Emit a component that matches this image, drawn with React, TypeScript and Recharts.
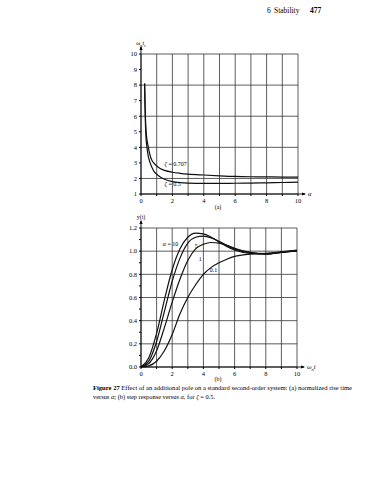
import React from 'react';
import { LineChart, Line, XAxis, YAxis, CartesianGrid, ReferenceDot } from 'recharts';

// (a) normalized rise time vs alpha
const alphaA = [0.23, 0.25, 0.28, 0.32, 0.38, 0.45, 0.55, 0.7, 0.85, 1, 1.25, 1.5, 2, 2.5, 3, 4, 5, 6, 7, 8, 9, 10];
const riseZeta0707 = [8.1, 7.2, 6.0, 5.1, 4.5, 4.1, 3.6, 3.15, 2.95, 2.8, 2.62, 2.52, 2.4, 2.33, 2.28, 2.22, 2.17, 2.13, 2.11, 2.1, 2.09, 2.09];
const riseZeta05 = [8.1, 7.0, 5.6, 4.6, 4.0, 3.5, 3.1, 2.7, 2.42, 2.27, 2.08, 1.95, 1.8, 1.73, 1.7, 1.68, 1.68, 1.69, 1.7, 1.72, 1.74, 1.76];
const riseXTicks = [0, 1, 2, 3, 4, 5, 6, 7, 8, 9, 10];
const riseYTicks = [1, 2, 3, 4, 5, 6, 7, 8, 9, 10];

// (b) step response vs normalized time
const timeB = [0, 0.5, 1, 1.5, 2, 2.5, 3, 3.5, 4, 4.5, 5, 5.5, 6, 7, 8, 9, 10];
const stepAlpha10 = [0, 0.08, 0.29, 0.58, 0.84, 1.02, 1.12, 1.155, 1.15, 1.12, 1.08, 1.04, 1.01, 0.98, 0.975, 0.99, 1.0];
const stepAlpha5 = [0, 0.05, 0.22, 0.48, 0.74, 0.94, 1.07, 1.12, 1.13, 1.115, 1.085, 1.05, 1.02, 0.985, 0.975, 0.99, 1.0];
const stepAlpha1 = [0, 0.03, 0.14, 0.34, 0.56, 0.76, 0.92, 1.02, 1.06, 1.075, 1.07, 1.05, 1.025, 0.99, 0.978, 0.99, 1.005];
const stepAlpha01 = [0, 0.01, 0.05, 0.14, 0.28, 0.46, 0.6, 0.71, 0.8, 0.86, 0.9, 0.93, 0.955, 0.975, 0.982, 0.995, 1.01];
const stepXTicks = [0, 1, 2, 3, 4, 5, 6, 7, 8, 9, 10];
const stepYTicks = [0, 0.1, 0.2, 0.3, 0.4, 0.5, 0.6, 0.7, 0.8, 0.9, 1.0, 1.1, 1.2];

const riseData = alphaA.map((a, i) => ({ alpha: a, z707: riseZeta0707[i], z05: riseZeta05[i] }));
const stepData = timeB.map((t, i) => ({
  t,
  a10: stepAlpha10[i],
  a5: stepAlpha5[i],
  a1: stepAlpha1[i],
  a01: stepAlpha01[i],
}));

const serif = '"Liberation Serif", "DejaVu Serif", serif';
const ink = '#000';
const tickStyle = { fontFamily: serif, fontSize: 6.5, fill: ink };

const evenLabel = (v: number) => (v % 2 === 0 ? String(v) : '');
const stepYLabel = (v: number) => (Math.round(v * 10) % 2 === 0 ? v.toFixed(1) : '');

// arrow on top of the y axis, with its name
const yArrow = (name: React.ReactNode) => (props: any) => {
  const vb = props.viewBox;
  const x = vb.x + vb.width;
  const y = vb.y;
  return (
    <g>
      <line x1={x} y1={y} x2={x} y2={y - 7} stroke={ink} strokeWidth={0.9} />
      <path d={`M${x - 1.6},${y - 4} L${x},${y - 8} L${x + 1.6},${y - 4} Z`} fill={ink} />
      <text x={x} y={y - 9} textAnchor="middle" fontFamily={serif} fontSize={6} fill={ink}>
        {name}
      </text>
    </g>
  );
};

// arrow at the right end of the x axis, with its name
const xArrow = (name: React.ReactNode) => (props: any) => {
  const vb = props.viewBox;
  const x = vb.x + vb.width;
  const y = vb.y;
  return (
    <g>
      <line x1={x} y1={y} x2={x + 7} y2={y} stroke={ink} strokeWidth={0.9} />
      <path d={`M${x + 4},${y - 1.6} L${x + 8},${y} L${x + 4},${y + 1.6} Z`} fill={ink} />
      <text x={x + 10} y={y + 2} fontFamily={serif} fontSize={6.5} fontStyle="italic" fill={ink}>
        {name}
      </text>
    </g>
  );
};

const tag = (text: React.ReactNode) => (p: any) => (
  <text x={p.cx} y={p.cy} dominantBaseline="middle" fontFamily={serif} fontSize={6} fill={ink}>
    {text}
  </text>
);

export default function App() {
  return (
    <div style={{ position: 'absolute', left: 0, top: 0, width: 388, height: 480, background: '#fff' }}>
      <svg width={388} height={480} style={{ position: 'absolute', left: 0, top: 0 }}>
        <text x={267} y={13} fontFamily={serif} fontSize={7.5} fill={ink}>6</text>
        <text x={274} y={13} fontFamily={serif} fontSize={7.5} fill={ink}>Stability</text>
        <text x={310} y={13} fontFamily={serif} fontSize={7.5} fontWeight="bold" fill={ink}>477</text>
        <text x={93} y={390} fontFamily={serif} fontSize={6.4} fill={ink} textLength={259} lengthAdjust="spacingAndGlyphs">
          <tspan fontWeight="bold">Figure 27</tspan>
          {'   Effect of an additional pole on a standard second-order system: (a) normalized rise time'}
        </text>
        <text x={93} y={398.5} fontFamily={serif} fontSize={6.4} fill={ink}>
          versus <tspan fontStyle="italic">α</tspan>; (b) step response versus <tspan fontStyle="italic">α</tspan>, for{' '}
          <tspan fontStyle="italic">ζ</tspan> = 0.5.
        </text>
        <text x={218} y={209} textAnchor="middle" fontFamily={serif} fontSize={6} fill={ink}>(a)</text>
        <text x={218} y={381} textAnchor="middle" fontFamily={serif} fontSize={6} fill={ink}>(b)</text>
      </svg>

      <div style={{ position: 'absolute', left: 0, top: 0 }}>
        <LineChart width={388} height={215} data={riseData} margin={{ top: 54, right: 90, bottom: 6, left: 121 }}>
          <CartesianGrid stroke="#333" strokeWidth={0.8} />
          <XAxis
            type="number"
            dataKey="alpha"
            domain={[0, 10]}
            ticks={riseXTicks}
            tickFormatter={evenLabel}
            tick={tickStyle}
            tickSize={2}
            height={15}
            axisLine={{ stroke: ink, strokeWidth: 0.9 }}
            tickLine={{ stroke: ink }}
            label={{ content: xArrow('α') }}
          />
          <YAxis
            type="number"
            domain={[1, 10]}
            ticks={riseYTicks}
            tick={tickStyle}
            tickSize={2}
            width={20}
            axisLine={{ stroke: ink, strokeWidth: 0.9 }}
            tickLine={{ stroke: ink }}
            label={{ content: yArrow(<tspan>ω<tspan fontSize={4.5} dy={1.5}>n</tspan><tspan dy={-1.5}>t</tspan><tspan fontSize={4.5} dy={1.5}>r</tspan></tspan>) }}
          />
          <Line type="monotone" dataKey="z707" stroke="#111" strokeWidth={1.2} dot={false} isAnimationActive={false} />
          <Line type="monotone" dataKey="z05" stroke="#111" strokeWidth={1.2} dot={false} isAnimationActive={false} />
          <ReferenceDot x={1.5} y={2.86} r={0} shape={tag(<tspan><tspan fontStyle="italic">ζ</tspan> = 0.707</tspan>)} />
          <ReferenceDot x={1.5} y={1.58} r={0} shape={tag(<tspan><tspan fontStyle="italic">ζ</tspan> = 0.5</tspan>)} />
        </LineChart>
      </div>

      <div style={{ position: 'absolute', left: 0, top: 200 }}>
        <LineChart width={388} height={190} data={stepData} margin={{ top: 28, right: 91, bottom: 8, left: 121 }}>
          <CartesianGrid stroke="#333" strokeWidth={0.8} />
          <XAxis
            type="number"
            dataKey="t"
            domain={[0, 10]}
            ticks={stepXTicks}
            tickFormatter={evenLabel}
            tick={tickStyle}
            tickSize={2}
            height={15}
            axisLine={{ stroke: ink, strokeWidth: 0.9 }}
            tickLine={{ stroke: ink }}
            label={{ content: xArrow(<tspan>ω<tspan fontSize={4.5} dy={1.5}>n</tspan><tspan dy={-1.5}>t</tspan></tspan>) }}
          />
          <YAxis
            type="number"
            domain={[0, 1.2]}
            ticks={stepYTicks}
            tickFormatter={stepYLabel}
            tick={tickStyle}
            tickSize={2}
            width={20}
            axisLine={{ stroke: ink, strokeWidth: 0.9 }}
            tickLine={{ stroke: ink }}
            label={{ content: yArrow('y(t)') }}
          />
          <Line type="monotone" dataKey="a10" stroke="#111" strokeWidth={1.2} dot={false} isAnimationActive={false} />
          <Line type="monotone" dataKey="a5" stroke="#111" strokeWidth={1.2} dot={false} isAnimationActive={false} />
          <Line type="monotone" dataKey="a1" stroke="#111" strokeWidth={1.2} dot={false} isAnimationActive={false} />
          <Line type="monotone" dataKey="a01" stroke="#111" strokeWidth={1.2} dot={false} isAnimationActive={false} />
          <ReferenceDot x={1.4} y={1.053} r={0} shape={tag(<tspan><tspan fontStyle="italic">α</tspan> = 10</tspan>)} />
          <ReferenceDot x={3.45} y={1.036} r={0} shape={tag('5')} />
          <ReferenceDot x={3.7} y={0.925} r={0} shape={tag('1')} />
          <ReferenceDot x={4.4} y={0.83} r={0} shape={tag('0.1')} />
        </LineChart>
      </div>
    </div>
  );
}
